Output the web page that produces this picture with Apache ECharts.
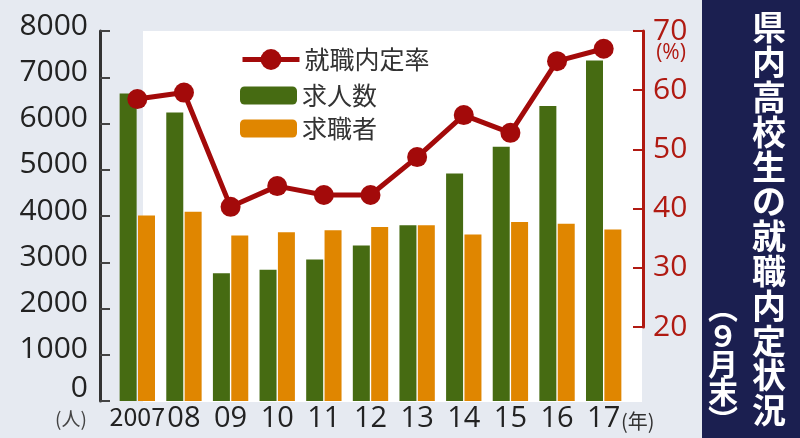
<!DOCTYPE html>
<html>
<head>
<meta charset="utf-8">
<script src="https://cdn.jsdelivr.net/npm/echarts@6/dist/echarts.min.js"></script>
<style>
html,body{margin:0;padding:0;background:#e6eaf1;}
#c{width:800px;height:438px;}
</style>
</head>
<body>
<div id="c"></div>
<script>
// ---- data ----
const years = ['2007','08','09','10','11','12','13','14','15','16','17'];
const openings = [6650, 6240, 2760, 2840, 3060, 3360, 3800, 4920, 5500, 6380, 7360]; // 求人数
const seekers  = [4010, 4090, 3580, 3650, 3690, 3760, 3800, 3600, 3870, 3830, 3710]; // 求職者
const rate     = [58.5, 59.6, 40.3, 43.8, 42.3, 42.3, 48.7, 55.8, 52.8, 64.9, 67.0]; // 就職内定率(%)
const leftAxis  = {min: 0, max: 8000, step: 1000};
const rightAxis = {min: 20, max: 70, step: 10};
const titleMain = '県内高校生の就職内定状況';
const titleSub  = ['︵','９','月','末','︶'];

const GREEN = '#466b12', ORANGE = '#e08600', RED = '#a30a0a', AXRED = '#b01a12';
const NUMFONT = 'Open Sans';
const JPFONT = '"Noto Sans CJK JP"';

const chart = echarts.init(document.getElementById('c'));
chart.setOption({
  animation: false,
  textStyle: {fontFamily: JPFONT},
  grid: [
    {left: 114, right: 173, top: 31, bottom: 37},
    {left: 114, right: 173, top: 31, bottom: 111}
  ],
  legend: [
    {orient: 'vertical', left: 240, top: 47, padding: 0,
     itemWidth: 57, itemHeight: 26, itemGap: 8,
     lineStyle: {width: 5},
     textStyle: {fontSize: 25, color: '#333', fontFamily: JPFONT},
     data: ['就職内定率']},
    {orient: 'vertical', left: 240, top: 83, padding: 0,
     itemWidth: 57, itemHeight: 18, itemGap: 8,
     textStyle: {fontSize: 25, color: '#333', fontFamily: JPFONT},
     data: ['求人数', '求職者']}
  ],
  xAxis: [
    {type: 'category', gridIndex: 0, data: years, boundaryGap: true,
     axisLine: {show: false}, axisTick: {show: false},
     axisLabel: {interval: 0, hideOverlap: false, margin: 3, fontSize: 29, color: '#222', fontFamily: NUMFONT,
       formatter: v => v === '2007' ? '{n|2007}' : v,
       rich: {n: {fontSize: 25, fontFamily: JPFONT, color: '#222'}}}},
    {type: 'category', gridIndex: 1, data: years, boundaryGap: true, show: false}
  ],
  yAxis: [
    {type: 'value', gridIndex: 0, position: 'left', offset: 14,
     min: leftAxis.min, max: leftAxis.max, interval: leftAxis.step,
     axisLine: {show: true, lineStyle: {color: '#333', width: 3}},
     axisTick: {show: true, inside: true, length: 10, lineStyle: {color: '#444', width: 2}},
     splitLine: {show: false},
     axisLabel: {margin: 12, fontSize: 30, color: '#222', fontFamily: NUMFONT,
       padding: [0, 0, 10, 0],
       formatter: v => v === 0 ? '{z|0}' : String(v),
       rich: {z: {fontSize: 30, fontFamily: NUMFONT, color: '#222', padding: [0, 0, 16, 0]}}}},
    {type: 'value', gridIndex: 1, position: 'right', offset: 16,
     min: rightAxis.min, max: rightAxis.max, interval: rightAxis.step,
     axisLine: {show: true, lineStyle: {color: AXRED, width: 3}},
     axisTick: {show: true, inside: true, length: 10, lineStyle: {color: AXRED, width: 2}},
     splitLine: {show: false},
     axisLabel: {margin: 10, fontSize: 30, color: AXRED, fontFamily: NUMFONT, padding: [0, 0, 10, 0]}}
  ],
  series: [
    {name: '求人数', type: 'bar', xAxisIndex: 0, yAxisIndex: 0, data: openings,
     barWidth: 17, barGap: '8%', itemStyle: {color: GREEN}},
    {name: '求職者', type: 'bar', xAxisIndex: 0, yAxisIndex: 0, data: seekers,
     barWidth: 17, barGap: '8%', itemStyle: {color: ORANGE}},
    {name: '就職内定率', type: 'line', xAxisIndex: 1, yAxisIndex: 1, data: rate,
     symbol: 'circle', symbolSize: 20, z: 5,
     lineStyle: {color: RED, width: 5}, itemStyle: {color: RED}}
  ],
  graphic: [
    {type: 'rect', z: -10, shape: {x: 143, y: 31, width: 499, height: 371}, style: {fill: '#ffffff'}},
    {type: 'rect', z: -10, shape: {x: 702, y: 0, width: 98, height: 438}, style: {fill: '#1b1f50'}},
    {type: 'text', x: 769, y: 10, style: {text: titleMain.split('').join('\n'), fill: '#ffffff',
      fontSize: 34, fontWeight: 'bold', fontFamily: JPFONT, lineHeight: 34.8, align: 'center', verticalAlign: 'top'}},
    {type: 'text', x: 723, y: 294, style: {text: titleSub.join('\n'), fill: '#ffffff',
      fontSize: 30, fontWeight: 'bold', fontFamily: JPFONT, lineHeight: 28, align: 'center', verticalAlign: 'top'}},
    {type: 'text', x: 671, y: 53, style: {text: '(%)', fill: AXRED, fontSize: 21, fontFamily: NUMFONT,
      align: 'center', verticalAlign: 'middle'}},
    {type: 'text', x: 71, y: 419, style: {text: '(人)', fill: '#444', fontSize: 19, fontFamily: JPFONT,
      align: 'center', verticalAlign: 'middle'}},
    {type: 'text', x: 621, y: 421, style: {text: '(年)', fill: '#333', fontSize: 20, fontFamily: JPFONT,
      align: 'left', verticalAlign: 'middle'}}
  ]
});
</script>
</body>
</html>
